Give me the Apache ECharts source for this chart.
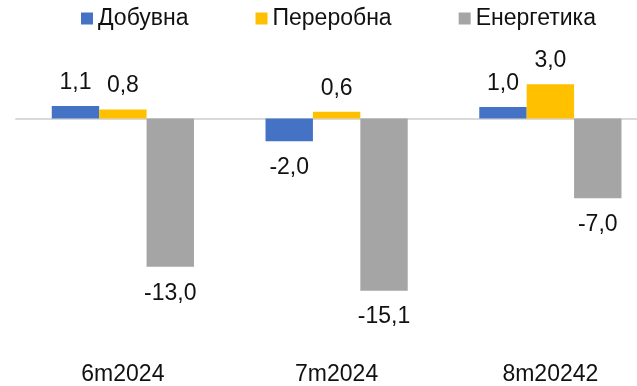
<!DOCTYPE html>
<html>
<head>
<meta charset="utf-8">
<script src="https://cdn.jsdelivr.net/npm/echarts@6/dist/echarts.min.js"></script>
<style>
  html, body { margin: 0; padding: 0; background: #fff; }
  #chart { width: 637px; height: 386px; }
</style>
</head>
<body>
<div id="chart"></div>
<script>
// Periods and change by industry group
const categories = ['6m2024', '7m2024', '8m20242'];
const seriesNames = ['Добувна', 'Переробна', 'Енергетика'];
const dobuvna = [1.1, -2.0, 1.0];
const pererobna = [0.8, 0.6, 3.0];
const energetyka = [-13.0, -15.1, -7.0];
const colors = ['#4472C4', '#FFC000', '#A5A5A5'];

const FONT = 'Liberation Sans, Arial, sans-serif';
const FS = 23;
const fmt = v => v.toFixed(1).replace('.', ',');

function barSeries(name, data, color) {
  return {
    name: name,
    type: 'bar',
    // negative values carry their label underneath the bar
    data: data.map(v => v < 0
      ? { value: v, label: { position: 'bottom', distance: 15 } }
      : { value: v }),
    barWidth: 47.4,
    barGap: '0%',
    itemStyle: { color: color },
    label: {
      show: true,
      fontFamily: FONT,
      fontSize: FS,
      color: '#111',
      formatter: p => fmt(p.value),
      position: 'top',
      distance: 12
    }
  };
}

const chart = echarts.init(document.getElementById('chart'), null, { renderer: 'canvas' });
chart.setOption({
  animation: false,
  backgroundColor: '#ffffff',
  legend: {
    data: seriesNames,
    left: 81,
    top: 7,
    padding: 0,
    icon: 'rect',
    itemWidth: 12,
    itemHeight: 12,
    itemGap: 67,
    textStyle: { fontFamily: FONT, fontSize: FS, color: '#111' }
  },
  // the plot runs a little past the right edge of the canvas
  grid: {
    left: 16, width: 641.25, top: 72.9, height: 273.6,
    containLabel: false, outerBoundsMode: 'none'
  },
  xAxis: [
    {
      type: 'category',
      data: categories,
      axisLine: { onZero: true, lineStyle: { color: '#D9D9D9', width: 2 } },
      axisTick: { show: false },
      axisLabel: { show: false }
    },
    {
      type: 'category',
      data: categories,
      position: 'bottom',
      axisLine: { show: false, onZero: false },
      axisTick: { show: false },
      axisLabel: { show: true, margin: 17, fontFamily: FONT, fontSize: FS, color: '#111' }
    }
  ],
  yAxis: {
    type: 'value',
    min: -20,
    max: 4,
    show: false,
    splitLine: { show: false }
  },
  series: [
    barSeries(seriesNames[0], dobuvna, colors[0]),
    barSeries(seriesNames[1], pererobna, colors[1]),
    barSeries(seriesNames[2], energetyka, colors[2])
  ]
});
</script>
</body>
</html>
